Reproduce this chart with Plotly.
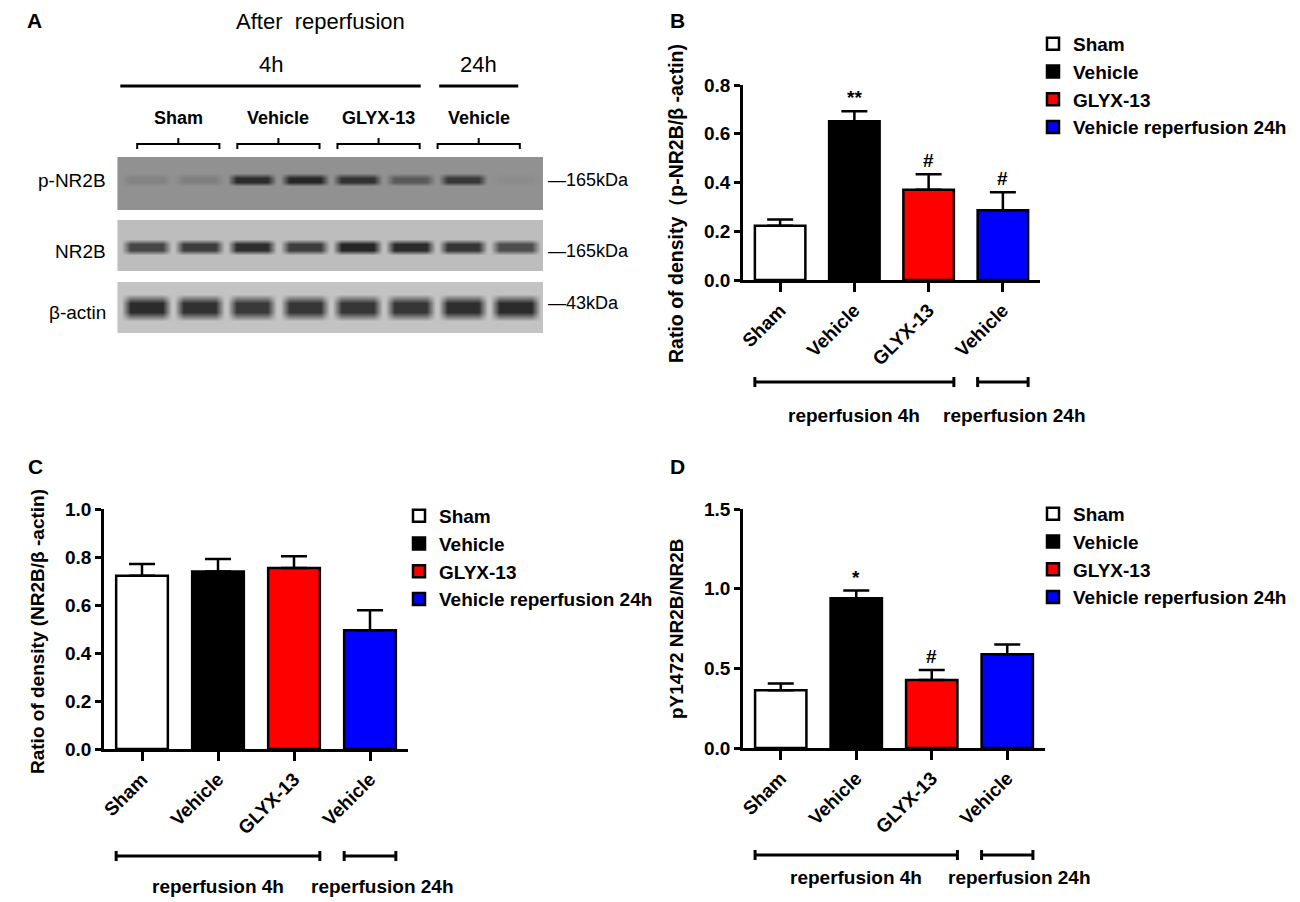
import plotly.graph_objects as go

W, H = 1300, 902

# ---- bar chart data (panels B, C, D) ----
groups = ["Sham", "Vehicle", "GLYX-13", "Vehicle reperfusion 24h"]
tick_labels = ["Sham", "Vehicle", "GLYX-13", "Vehicle"]
bar_colors = ["#ffffff", "#000000", "#ff0000", "#0000ff"]

pnr2b_mean = [0.223, 0.651, 0.370, 0.286]
pnr2b_sem = [0.025, 0.041, 0.064, 0.074]
pnr2b_marks = ["", "**", "#", "#"]

nr2b_mean = [0.722, 0.740, 0.754, 0.495]
nr2b_sem = [0.049, 0.052, 0.049, 0.083]
nr2b_marks = ["", "", "", ""]

py_mean = [0.363, 0.940, 0.426, 0.589]
py_sem = [0.042, 0.048, 0.063, 0.061]
py_marks = ["", "*", "#", ""]

reperfusion_groups = [("reperfusion 4h", 0, 2), ("reperfusion 24h", 3, 3)]

# ---- western blot (panel A), relative band darkness per lane ----
blot_rows = ["p-NR2B", "NR2B", "β-actin"]
blot_kda = ["165kDa", "165kDa", "43kDa"]
blot_groups = ["Sham", "Vehicle", "GLYX-13", "Vehicle"]
band_pnr2b = [0.12, 0.14, 0.85, 0.9, 0.8, 0.45, 0.75, 0.04]
band_nr2b = [0.75, 0.8, 0.9, 0.8, 0.95, 0.92, 0.85, 0.7]
band_actin = [0.97, 0.93, 0.88, 0.9, 0.9, 0.9, 0.95, 0.97]

FONT = "Arial, Liberation Sans, sans-serif"


def px_x(p):
    return p / W


def px_y(p):
    return 1 - p / H


def bold(s):
    return dict(size=s, weight="bold", color="black", family=FONT)


def reg(s):
    return dict(size=s, color="black", family=FONT)


def note(x, y, text, font, xref="paper", yref="paper", **kw):
    d = dict(x=x, y=y, xref=xref, yref=yref, text=text, showarrow=False, font=font,
             xanchor="center", yanchor="middle")
    d.update(kw)
    return d


fig = go.Figure()
ann = []
shapes = []

# bar panels: (axis suffix, means, sems, marks, ymax, dtick)
panels = [
    ("", pnr2b_mean, pnr2b_sem, pnr2b_marks, 0.8, 0.2),
    ("2", nr2b_mean, nr2b_sem, nr2b_marks, 1.0, 0.2),
    ("3", py_mean, py_sem, py_marks, 1.5, 0.5),
]
legend_names = ["legend", "legend2", "legend3"]

for (ax, means, sems, marks, ymax, dt), lg in zip(panels, legend_names):
    for i in range(len(groups)):
        fig.add_trace(go.Bar(
            x=[i], y=[means[i]], width=0.68, name=groups[i],
            marker=dict(color=bar_colors[i], line=dict(color="black", width=2.5)),
            error_y=dict(type="data", array=[sems[i]], arrayminus=[0], symmetric=False,
                         color="black", thickness=2.5, width=13),
            xaxis="x" + ax, yaxis="y" + ax, legend=lg, hoverinfo="skip",
        ))
        if marks[i]:
            ann.append(note(i, means[i] + sems[i], marks[i], bold(19),
                            xref="x" + ax, yref="y" + ax, yanchor="bottom", yshift=1))


def blot_trace(bands, bg, dark, yc, hh, n):
    xs, core = [], []
    for i, v in enumerate(bands):
        xs += [i - 0.47, i - 0.3, i + 0.3, i + 0.47]
        core += [0, v, v, 0]
    ys = [0, yc - hh, yc - hh * 0.35, yc + hh * 0.35, yc + hh, 1]
    empty = [0] * len(xs)
    z = [empty, empty, core, core, empty, empty]
    return go.Heatmap(x=xs, y=ys, z=z, zmin=0, zmax=1, zsmooth="best",
                      colorscale=[[0, bg], [1, dark]], showscale=False,
                      hoverinfo="skip", xaxis="x" + n, yaxis="y" + n)


fig.add_trace(blot_trace(band_pnr2b, "#919191", "#1a1a1a", 0.57, 0.12, "4"))
fig.add_trace(blot_trace(band_nr2b, "#bdbdbd", "#1e1e1e", 0.47, 0.16, "5"))
fig.add_trace(blot_trace(band_actin, "#c3c3c3", "#262626", 0.5, 0.26, "6"))

axis_common = dict(showgrid=False, zeroline=False, showline=True, linecolor="black",
                   linewidth=2.5, ticks="outside", tickwidth=2.5, tickcolor="black",
                   automargin=False,
                   tickfont=dict(size=19, weight="bold", color="black", family=FONT))

layout_axes = {}
bar_domains = [
    ((743, 1040), (85, 280)),
    ((104, 408), (509, 749)),
    ((743, 1045), (509, 748)),
]
for (ax, means, sems, marks, ymax, dt), (dx, dy) in zip(panels, bar_domains):
    ntick = int(round(ymax / dt)) + 1
    layout_axes["xaxis" + ax] = dict(axis_common, domain=[px_x(dx[0]), px_x(dx[1])],
                                     range=[-0.5, 3.5], tickvals=list(range(4)),
                                     ticktext=tick_labels, tickangle=-45, ticklen=9,
                                     anchor="y" + ax)
    layout_axes["yaxis" + ax] = dict(axis_common, domain=[px_y(dy[1]), px_y(dy[0])],
                                     range=[0, ymax], tickvals=[k * dt for k in range(ntick)],
                                     tickformat=".1f", ticklen=6, anchor="x" + ax)

strip_y = [(157, 210), (220, 271), (282, 333)]
for n, (t, b) in zip(["4", "5", "6"], strip_y):
    layout_axes["xaxis" + n] = dict(domain=[px_x(114), px_x(543)], range=[-0.62, 7.52],
                                    visible=False, automargin=False, anchor="y" + n)
    layout_axes["yaxis" + n] = dict(domain=[px_y(b), px_y(t)], range=[0, 1],
                                    visible=False, automargin=False, anchor="x" + n)

# ---- annotations & decorations ----
for letter, (lx, ly) in zip("ABCD", [(34, 20), (677, 20), (35, 467), (677, 467)]):
    ann.append(note(px_x(lx), px_y(ly), letter, bold(21)))

# y titles
for text, (tx, ty), fs in zip(["Ratio of density（p-NR2B/β -actin)",
                               "Ratio of density (NR2B/β -actin)",
                               "pY1472 NR2B/NR2B"],
                              [(676, 204), (37, 632), (676, 629)],
                              [19.5, 19, 19]):
    ann.append(note(px_x(tx), px_y(ty), text, bold(fs), textangle=-90))

# reperfusion brackets under bar panels
bracket_px = [("", 382, 415), ("2", 856, 886), ("3", 855, 877)]
for ax, ly, ty in bracket_px:
    for k, (label, a, b) in enumerate(reperfusion_groups):
        x0, x1 = a - 0.34, b + 0.34
        shapes.append(dict(type="line", xref="x" + ax, yref="paper", x0=x0, x1=x1,
                           y0=px_y(ly), y1=px_y(ly), line=dict(color="black", width=3)))
        for xe in (x0, x1):
            shapes.append(dict(type="line", xref="x" + ax, yref="paper", x0=xe, x1=xe,
                               y0=px_y(ly - 5), y1=px_y(ly + 5),
                               line=dict(color="black", width=3)))
        ann.append(note((x0 + x1) / 2, px_y(ty), label, bold(19), xref="x" + ax,
                        xshift=12 if k == len(reperfusion_groups) - 1 else 0))

# panel A text
ann.append(note(3.3, px_y(21), "After\u00a0 reperfusion", reg(22), xref="x4"))
time_spans = [("4h", -0.5, 5.2), ("24h", 5.55, 7.05)]
for label, a, b in time_spans:
    ann.append(note((a + b) / 2, px_y(65), label, reg(22), xref="x4"))
    shapes.append(dict(type="line", xref="x4", yref="paper", x0=a, x1=b,
                       y0=px_y(86), y1=px_y(86), line=dict(color="black", width=3)))

for g, label in enumerate(blot_groups):
    c = 0.6 + 1.9 * g
    ann.append(note(c, px_y(118), label, bold(18), xref="x4"))
    x0, x1 = c - 0.78, c + 0.78
    path = (f"M{x0},{px_y(149)} L{x0},{px_y(144)} L{x1},{px_y(144)} L{x1},{px_y(149)} "
            f"M{c},{px_y(144)} L{c},{px_y(138)}")
    shapes.append(dict(type="path", xref="x4", yref="paper", path=path,
                       line=dict(color="black", width=2)))

for label, kda, py_lab, py_kda in zip(blot_rows, blot_kda, [180, 252, 313], [180, 251, 303]):
    ann.append(note(px_x(108), px_y(py_lab), label, reg(19), xanchor="right"))
    ann.append(note(px_x(546), px_y(py_kda), "—" + kda, reg(18), xanchor="left"))

legend_common = dict(xanchor="left", yanchor="top", font=bold(19), bgcolor="rgba(0,0,0,0)",
                     tracegroupgap=0, itemclick=False, itemdoubleclick=False)

fig.update_layout(
    width=W, height=H, margin=dict(l=0, r=0, t=0, b=0, autoexpand=False),
    paper_bgcolor="white", plot_bgcolor="white",
    font=dict(family=FONT, color="black"),
    barmode="overlay", showlegend=True,
    legend=dict(legend_common, x=px_x(1033), y=px_y(25)),
    legend2=dict(legend_common, x=px_x(399), y=px_y(497)),
    legend3=dict(legend_common, x=px_x(1033), y=px_y(495)),
    annotations=ann, shapes=shapes,
    **layout_axes,
)

fig.write_html("out.html", config={"displayModeBar": False},
               post_script="document.body.style.margin='0px';")
